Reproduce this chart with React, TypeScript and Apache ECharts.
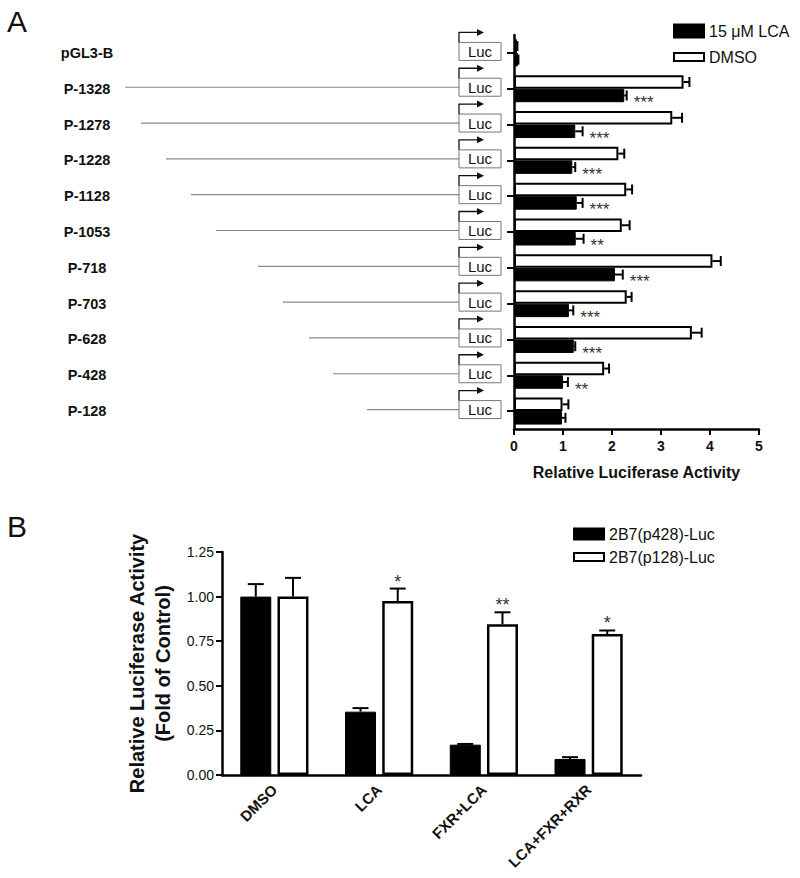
import React, { useEffect, useRef } from "react";
import * as echarts from "echarts";

const FONT = '"Liberation Sans", Arial, Helvetica, sans-serif';

// ---------- Panel A data ----------
const constructs = ["pGL3-B", "P-1328", "P-1278", "P-1228", "P-1128", "P-1053", "P-718", "P-703", "P-628", "P-428", "P-128"];
const dmsoMean = [0.06, 3.46, 3.23, 2.13, 2.29, 2.2, 4.05, 2.3, 3.63, 1.84, 0.99];
const dmsoErr = [0.01, 0.12, 0.2, 0.12, 0.12, 0.16, 0.17, 0.1, 0.2, 0.1, 0.12];
const lcaMean = [0.08, 2.25, 1.25, 1.19, 1.28, 1.26, 2.06, 1.12, 1.22, 1.0, 0.98];
const lcaErr = [0.01, 0.05, 0.15, 0.06, 0.12, 0.16, 0.16, 0.09, 0.03, 0.1, 0.07];
const lcaSig = ["", "***", "***", "***", "***", "**", "***", "***", "***", "**", ""];
// schematic promoter line length (drawing units)
const promoterLineLen = [0, 334, 318, 293, 268, 243, 201, 176, 150, 126, 92];
const seriesNamesA = ["DMSO", "15 μM LCA"];

// ---------- Panel B data ----------
const treatments = ["DMSO", "LCA", "FXR+LCA", "LCA+FXR+RXR"];
const p428Mean = [1.0, 0.355, 0.17, 0.09];
const p428Err = [0.07, 0.02, 0.004, 0.01];
const p128Mean = [1.0, 0.975, 0.845, 0.79];
const p128Err = [0.105, 0.07, 0.067, 0.02];
const p128Sig = ["", "*", "**", "*"];
const seriesNamesB = ["2B7(p428)-Luc", "2B7(p128)-Luc"];

const BAR_A = 13.5;
const BAR_B = 31;

export default function App() {
  const ref = useRef<HTMLDivElement>(null);

  useEffect(() => {
    if (!ref.current) return;
    const chart = echarts.init(ref.current, undefined, { renderer: "svg" });

    const errA = (means: number[], errs: number[], pos: number, sig: string[] | null) => ({
      type: "custom",
      xAxisIndex: 0,
      yAxisIndex: 0,
      encode: { x: 1, y: 0 },
      silent: true,
      z: 5,
      data: means.map((m, i) => [i, m, errs[i]]),
      renderItem: (params: any, api: any) => {
        const cat = api.value(0);
        const m = api.value(1);
        const e = api.value(2);
        const p = api.coord([m, cat]);
        const q = api.coord([m + e, cat]);
        const y = p[1] + (pos * BAR_A) / 2;
        const children: any[] = [
          { type: "line", shape: { x1: p[0], y1: y, x2: q[0], y2: y }, style: { stroke: "#000", lineWidth: 2 } },
          { type: "line", shape: { x1: q[0], y1: y - 5, x2: q[0], y2: y + 5 }, style: { stroke: "#000", lineWidth: 2 } },
        ];
        const s = sig ? sig[params.dataIndex] : "";
        if (s) {
          children.push({
            type: "text",
            style: { text: s, x: q[0] + 7, y: y + 7, fill: "#333", font: `17px ${FONT}`, textAlign: "left", textVerticalAlign: "middle" },
          });
        }
        return { type: "group", children };
      },
    });

    const errB = (means: number[], errs: number[], pos: number, sig: string[] | null) => ({
      type: "custom",
      xAxisIndex: 2,
      yAxisIndex: 2,
      encode: { x: 0, y: 1 },
      silent: true,
      z: 5,
      data: means.map((m, i) => [i, m, errs[i]]),
      renderItem: (params: any, api: any) => {
        const cat = api.value(0);
        const m = api.value(1);
        const e = api.value(2);
        const p = api.coord([cat, m]);
        const q = api.coord([cat, m + e]);
        const x = p[0] + pos * (BAR_B * 0.6);
        const children: any[] = [
          { type: "line", shape: { x1: x, y1: p[1], x2: x, y2: q[1] }, style: { stroke: "#000", lineWidth: 2 } },
          { type: "line", shape: { x1: x - 8, y1: q[1], x2: x + 8, y2: q[1] }, style: { stroke: "#000", lineWidth: 2 } },
        ];
        const s = sig ? sig[params.dataIndex] : "";
        if (s) {
          children.push({
            type: "text",
            style: { text: s, x: x, y: q[1] - 7, fill: "#333", font: `18px ${FONT}`, textAlign: "center", textVerticalAlign: "middle" },
          });
        }
        return { type: "group", children };
      },
    });

    const option: any = {
      animation: false,
      textStyle: { fontFamily: FONT, color: "#111" },
      graphic: [
        { type: "text", left: 7, top: 6, style: { text: "A", font: `30px ${FONT}`, fill: "#111" } },
        { type: "text", left: 7, top: 511, style: { text: "B", font: `30px ${FONT}`, fill: "#111" } },
      ],
      legend: [
        {
          orient: "vertical",
          left: 673,
          top: 23,
          padding: 0,
          itemWidth: 30,
          itemHeight: 13,
          itemGap: 10,
          selectedMode: false,
          textStyle: { fontSize: 16, color: "#111", fontFamily: FONT },
          data: [
            { name: seriesNamesA[1], icon: "rect" },
            { name: seriesNamesA[0], icon: "path://M0,0h30v8h-30z" },
          ],
        },
        {
          orient: "vertical",
          left: 573,
          top: 526,
          padding: 0,
          itemWidth: 30,
          itemHeight: 11,
          itemGap: 7,
          selectedMode: false,
          textStyle: { fontSize: 16, color: "#111", fontFamily: FONT },
          data: [
            { name: seriesNamesB[0], icon: "rect" },
            { name: seriesNamesB[1], icon: "path://M0,0h30v8h-30z" },
          ],
        },
      ],
      grid: [
        { left: 514, top: 35, width: 245, height: 394 },
        { left: 100, top: 35, width: 359, height: 394 },
        { left: 222, top: 552, width: 419, height: 223 },
      ],
      xAxis: [
        {
          gridIndex: 0,
          type: "value",
          min: 0,
          max: 5,
          interval: 1,
          splitLine: { show: false },
          axisLine: { show: true, lineStyle: { color: "#000", width: 2.5 } },
          axisTick: { show: true, length: 6, lineStyle: { color: "#000", width: 2 } },
          axisLabel: { fontSize: 14, fontWeight: "bold", color: "#111", margin: 10 },
          name: "Relative Luciferase Activity",
          nameLocation: "middle",
          nameGap: 35,
          nameTextStyle: { fontSize: 16, fontWeight: "bold", color: "#111" },
        },
        { gridIndex: 1, type: "value", inverse: true, min: 0, max: 359, show: false },
        {
          gridIndex: 2,
          type: "category",
          data: treatments,
          axisLine: { show: true, lineStyle: { color: "#000", width: 2.5 } },
          axisTick: { show: false },
          axisLabel: { rotate: 45, fontSize: 15, fontWeight: "bold", color: "#111", margin: 12, interval: 0 },
        },
      ],
      yAxis: [
        {
          gridIndex: 0,
          type: "category",
          data: constructs,
          inverse: true,
          axisLine: { show: true, lineStyle: { color: "#000", width: 2.5 } },
          axisTick: { show: true, alignWithLabel: true, length: 7, lineStyle: { color: "#000", width: 2 } },
          axisLabel: { show: false },
        },
        {
          gridIndex: 1,
          type: "category",
          data: constructs,
          inverse: true,
          axisLine: { show: false },
          axisTick: { show: false },
          axisLabel: { align: "center", margin: 13, fontSize: 14.5, fontWeight: "bold", color: "#111" },
        },
        {
          gridIndex: 2,
          type: "value",
          min: 0,
          max: 1.25,
          interval: 0.25,
          splitLine: { show: false },
          axisLine: { show: true, lineStyle: { color: "#000", width: 2.5 } },
          axisTick: { show: true, length: 6, lineStyle: { color: "#000", width: 2 } },
          axisLabel: { fontSize: 14, color: "#111", margin: 8, formatter: (v: number) => v.toFixed(2) },
          name: "Relative Luciferase Activity\n(Fold of Control)",
          nameLocation: "middle",
          nameGap: 34,
          nameTextStyle: { fontSize: 20, fontWeight: "bold", color: "#111", lineHeight: 26 },
        },
      ],
      series: [
        {
          name: seriesNamesA[0],
          type: "bar",
          xAxisIndex: 0,
          yAxisIndex: 0,
          data: dmsoMean,
          barWidth: BAR_A,
          barGap: "0%",
          itemStyle: { color: "#fff", borderColor: "#000", borderWidth: 2 },
        },
        {
          name: seriesNamesA[1],
          type: "bar",
          xAxisIndex: 0,
          yAxisIndex: 0,
          data: lcaMean,
          barWidth: BAR_A,
          barGap: "0%",
          itemStyle: { color: "#000", borderColor: "#000", borderWidth: 1 },
        },
        errA(dmsoMean, dmsoErr, -1, null),
        errA(lcaMean, lcaErr, 1, lcaSig),
        {
          type: "custom",
          xAxisIndex: 1,
          yAxisIndex: 1,
          encode: { x: 0, y: 1 },
          silent: true,
          data: promoterLineLen.map((len, i) => [len, i]),
          renderItem: (params: any, api: any) => {
            const len = api.value(0);
            const cat = api.value(1);
            const p0 = api.coord([0, cat]);
            const ps = api.coord([len, cat]);
            const c = p0[1] - 1.5;
            const bx = p0[0];
            const children: any[] = [];
            if (len > 0) {
              children.push({ type: "line", shape: { x1: ps[0], y1: c, x2: bx, y2: c }, style: { stroke: "#888", lineWidth: 1.2 } });
            }
            children.push(
              { type: "rect", shape: { x: bx, y: c - 9, width: 42, height: 18 }, style: { fill: "#fff", stroke: "#777", lineWidth: 1 } },
              { type: "text", style: { text: "Luc", x: bx + 21, y: c, font: `15px ${FONT}`, fill: "#111", textAlign: "center", textVerticalAlign: "middle" } },
              { type: "polyline", shape: { points: [[bx, c - 9], [bx, c - 19], [bx + 19, c - 19]] }, style: { stroke: "#111", lineWidth: 1.3, fill: "none" } },
              { type: "polygon", shape: { points: [[bx + 18, c - 22.5], [bx + 25, c - 19], [bx + 18, c - 15.5]] }, style: { fill: "#111" } }
            );
            return { type: "group", children };
          },
        },
        {
          name: seriesNamesB[0],
          type: "bar",
          xAxisIndex: 2,
          yAxisIndex: 2,
          data: p428Mean,
          barWidth: BAR_B,
          barGap: "20%",
          itemStyle: { color: "#000", borderColor: "#000", borderWidth: 1 },
        },
        {
          name: seriesNamesB[1],
          type: "bar",
          xAxisIndex: 2,
          yAxisIndex: 2,
          data: p128Mean,
          barWidth: BAR_B,
          barGap: "20%",
          itemStyle: { color: "#fff", borderColor: "#000", borderWidth: 2.5 },
        },
        errB(p428Mean, p428Err, -1, null),
        errB(p128Mean, p128Err, 1, p128Sig),
      ],
    };

    chart.setOption(option);
    return () => chart.dispose();
  }, []);

  return <div ref={ref} style={{ position: "absolute", left: 0, top: 0, width: 800, height: 878 }} />;
}
